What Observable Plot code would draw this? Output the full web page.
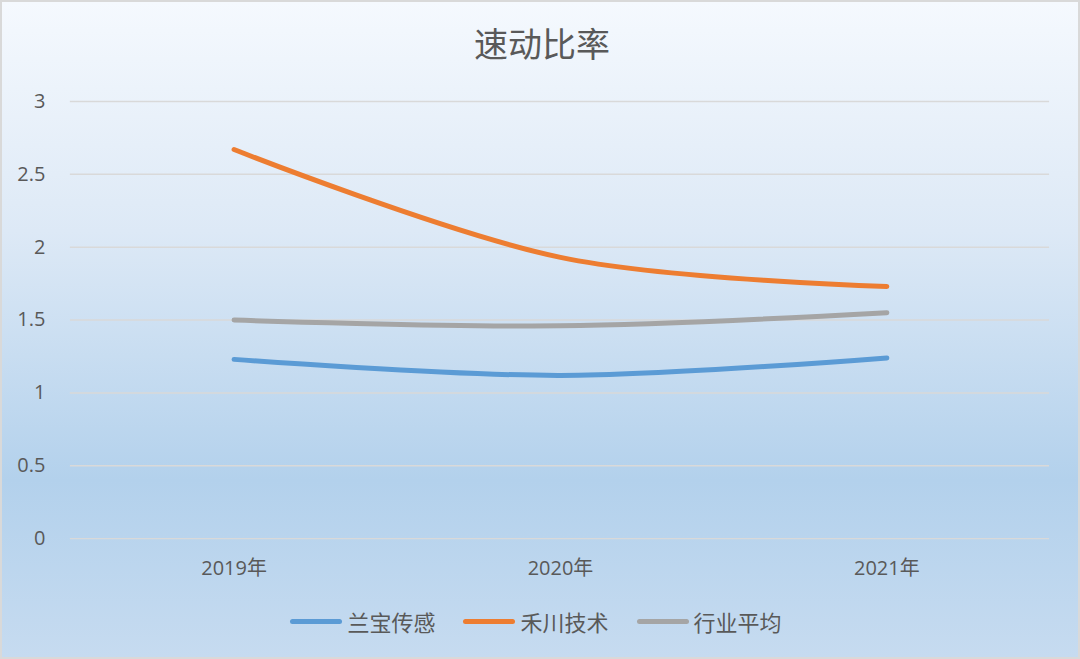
<!DOCTYPE html>
<html>
<head>
<meta charset="utf-8">
<script src="https://cdn.jsdelivr.net/npm/d3@7"></script>
<script src="https://cdn.jsdelivr.net/npm/@observablehq/plot@0.6"></script>
<style>
  html, body { margin: 0; padding: 0; }
  body { width: 1080px; height: 659px; overflow: hidden; font-family: "Noto Sans CJK SC", "Open Sans", sans-serif; }
  #frame {
    position: relative; width: 1076px; height: 655px;
    border: 2px solid #d9d9d9;
    background: linear-gradient(to bottom, #f5f9fe 0%, #dde9f6 35%, #b3d1ec 73%, #c6dbf0 100%);
  }
  #title { position: absolute; top: 16px; left: 0; width: 1080px; text-align: center; font-size: 34px; color: #595959; }
  #chart { position: absolute; top: 66px; left: -2px; }
  #chart svg text { font-size: 20px !important; fill: #595959; font-family: "Open Sans", "Noto Sans CJK SC", sans-serif; }
  #legend { position: absolute; top: 603px; left: -6px; width: 1080px; display: flex; justify-content: center; gap: 28px; font-size: 22px; color: #595959; }
  .item { display: flex; align-items: center; }
  .swatch { width: 52px; height: 5px; border-radius: 3px; margin-right: 5px; }
</style>
</head>
<body>
<div id="frame">
  <div id="title">速动比率</div>
  <div id="chart"></div>
  <div id="legend"></div>
</div>
<script>
const years = ["2019年", "2020年", "2021年"];
const seriesNames = ["兰宝传感", "禾川技术", "行业平均"];
const lanbao = [1.23, 1.12, 1.24];
const hechuan = [2.67, 1.93, 1.73];
const industry = [1.50, 1.46, 1.55];
const yTicks = [0, 0.5, 1, 1.5, 2, 2.5, 3];
const colors = ["#5B9BD5", "#ED7D31", "#A5A5A5"];

const allSeries = [lanbao, hechuan, industry];
const data = [];
allSeries.forEach((vals, si) => vals.forEach((v, i) => data.push({series: seriesNames[si], year: years[i], value: v})));

const chart = Plot.plot({
  width: 1080,
  height: 514,
  marginTop: 33,
  marginBottom: 43,
  marginLeft: 70,
  marginRight: 29,
  style: {background: "transparent", fontFamily: "'Open Sans', 'Noto Sans CJK SC', sans-serif", fontSize: "20px", color: "#595959"},
  x: {type: "point", domain: years, padding: 0.5, label: null},
  y: {domain: [0, 3], ticks: yTicks, label: null},
  color: {domain: seriesNames, range: colors},
  marks: [
    Plot.gridY(yTicks, {stroke: "#d9d9d9", strokeOpacity: 1, strokeWidth: 1.5}),
    Plot.axisY(yTicks, {tickSize: 0, tickPadding: 25, fontSize: 20, fill: "#595959", tickFormat: d => String(d), label: null}),
    Plot.axisX({tickSize: 0, tickPadding: 22, fontSize: 20, fill: "#595959", label: null}),
    Plot.line(data, {x: "year", y: "value", z: "series", stroke: "series", strokeWidth: 5, curve: "catmull-rom", strokeLinecap: "round"})
  ]
});
document.getElementById("chart").appendChild(chart);

const legend = document.getElementById("legend");
seriesNames.forEach((n, i) => {
  const it = document.createElement("div");
  it.className = "item";
  it.innerHTML = `<div class="swatch" style="background:${colors[i]}"></div><span>${n}</span>`;
  legend.appendChild(it);
});
</script>
</body>
</html>
